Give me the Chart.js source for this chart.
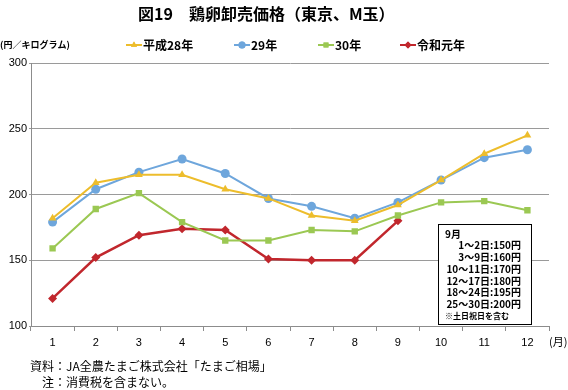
<!DOCTYPE html>
<html><head><meta charset="utf-8">
<script src="https://cdn.jsdelivr.net/npm/chart.js@4/dist/chart.umd.min.js"></script>
<style>html,body{margin:0;padding:0;background:#fff}#wrap{width:568px;height:390px;position:relative}</style>
</head><body><div id="wrap"><canvas id="c" width="568" height="390"></canvas></div>
<script>
const months = ['1','2','3','4','5','6','7','8','9','10','11','12'];
const seriesNames = ['平成28年','29年','30年','令和元年'];
const h28 = [182,209,215,215,204,197,184,180,192,211,231,245];
const h29 = [179,204,217,227,216,197,191,182,194,211,228,234];
const h30 = [159,189,201,179,165,165,173,172,184,194,195,188];
const r1  = [121,152,169,174,173,151,150,150,180,null,null,null];
const yTicks = [100,150,200,250,300];
const titleText = '図19　鶏卵卸売価格（東京、M玉）';
const unitText = '(円／キログラム)';
const sourceLines = ['資料：JA全農たまご株式会社「たまご相場」','注：消費税を含まない。'];
const noteLines = ['9月','1～2日:150円','3～9日:160円','10～11日:170円','12～17日:180円','18～24日:195円','25～30日:200円','※土日祝日を含む'];

const colors = ['#EDBD2C','#6EA6DC','#9BC853','#C1272D'];
const styles = ['triangle','circle','rect','rectRot'];
const radii = [4.5,4.5,4.5,4.5];
const JP = '"Noto Sans CJK JP", "Noto Sans", sans-serif';
const LAT = '"Liberation Sans", Arial, sans-serif';

const extras = {
  id:'extras',
  afterDraw(chart){
    const ctx = chart.ctx;
    ctx.save();
    ctx.fillStyle = '#000';
    ctx.textBaseline = 'middle';
    ctx.font = 'bold 16px ' + JP;
    ctx.textAlign = 'left';
    ctx.fillText(titleText, 138, 14);
    ctx.font = 'bold 9px ' + JP;
    ctx.fillText(unitText, 0, 45);
    const lx = [134,242,326,408];
    chart.data.datasets.forEach((ds,i)=>{
      const x = lx[i], y = 45;
      ctx.strokeStyle = ds.borderColor; ctx.lineWidth = 2;
      ctx.beginPath(); ctx.moveTo(x-8,y); ctx.lineTo(x+8,y); ctx.stroke();
      ctx.fillStyle = ds.borderColor;
      Chart.helpers.drawPoint(ctx,{pointStyle:ds.pointStyle,rotation:0,radius:3.5,borderWidth:0},x,y);
      ctx.fill();
      ctx.fillStyle = '#000';
      ctx.font = 'bold 12px ' + JP;
      ctx.fillText(ds.label, x+9, y+0.5);
    });
    ctx.font = '11px ' + JP;
    ctx.fillText('(月)', 549, 342);
    ctx.font = '12px ' + JP;
    ctx.fillText(sourceLines[0], 30, 366);
    ctx.fillText(sourceLines[1], 42, 382);
    ctx.fillStyle = '#fff';
    ctx.fillRect(438.5,224.5,93,100);
    ctx.strokeStyle = '#000'; ctx.lineWidth = 1;
    ctx.strokeRect(438.5,224.5,93,100);
    ctx.fillStyle = '#000';
    ctx.font = 'bold 10px ' + JP;
    ctx.textAlign = 'left';
    ctx.fillText(noteLines[0], 445, 234);
    ctx.textAlign = 'right';
    for (let i=1;i<7;i++) ctx.fillText(noteLines[i], 521, 234 + i*11.7);
    ctx.textAlign = 'left';
    ctx.font = 'bold 8px ' + JP;
    ctx.fillText(noteLines[7], 445, 316);
    ctx.restore();
  }
};

const data = [h28,h29,h30,r1];
new Chart(document.getElementById('c'), {
  type:'line',
  data:{
    labels: months,
    datasets: data.map((d,i)=>({
      label: seriesNames[i], data: d,
      borderColor: colors[i], backgroundColor: colors[i],
      pointStyle: styles[i], pointRadius: radii[i], pointBorderWidth: 0,
      borderWidth: i===3 ? 2.5 : 2, tension: 0, spanGaps: false
    }))
  },
  options:{
    responsive:false, animation:false, devicePixelRatio:1,
    layout:{padding:{top:63,left:0,right:19,bottom:0}},
    plugins:{legend:{display:false}, tooltip:{enabled:false}, title:{display:false}},
    scales:{
      x:{
        offset:true,
        grid:{drawOnChartArea:false, offset:true, tickLength:5, color:'#8c8c8c'},
        border:{color:'#8c8c8c'},
        ticks:{font:{size:11, family:LAT}, color:'#000', padding:5},
        afterFit(s){ s.height = 64; }
      },
      y:{
        min:100, max:300,
        afterBuildTicks(s){ s.ticks = yTicks.map(v=>({value:v})); },
        grid:{color:'#9a9a9a', tickLength:2},
        border:{color:'#8c8c8c'},
        ticks:{font:{size:11, family:LAT}, color:'#000', padding:2},
        afterFit(s){ s.width = 31; }
      }
    }
  },
  plugins:[extras]
});
</script></body></html>
